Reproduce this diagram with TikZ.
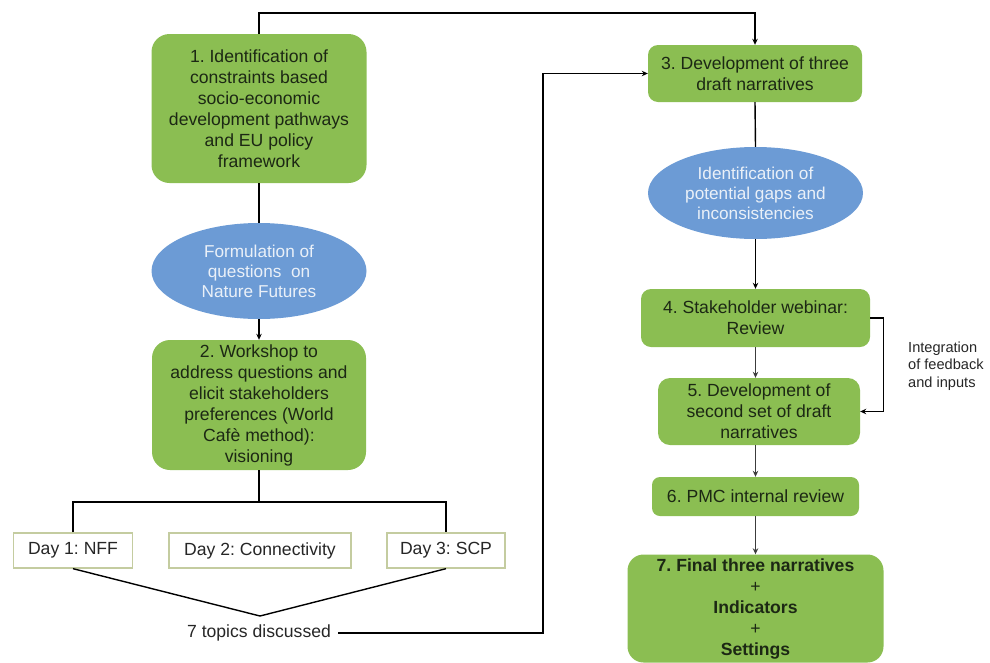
\documentclass[tikz,border=0pt]{standalone}
\usepackage{fontspec}
\setmainfont{Liberation Sans}
\usetikzlibrary{shapes.geometric,arrows.meta}
\definecolor{boxgreen}{RGB}{139,190,82}
\definecolor{ellblue}{RGB}{108,155,213}
\definecolor{boxtext}{RGB}{28,40,20}
\definecolor{elltext}{RGB}{234,240,248}
\definecolor{dayborder}{RGB}{196,204,160}
\definecolor{linegray}{RGB}{60,60,60}
\frenchspacing
\begin{document}
\begin{tikzpicture}[x=1pt,y=-1pt,
  every node/.style={font=\fontsize{17.6}{21}\selectfont, inner sep=0pt, align=center},
  gbox/.style={fill=boxgreen, text=boxtext, rounded corners=#1},
  gbox/.default=10pt,
  ellnode/.style={ellipse, fill=ellblue, text=elltext, font=\fontsize{17.2}{20}\selectfont},
  daybox/.style={draw=dayborder, line width=1.3pt, fill=white, text=black!85},
  conn/.style={line width=1.4pt, black},
  arr/.style={conn, -{Stealth[length=6pt,width=5.5pt]}},
  garr/.style={line width=1.4pt, linegray, -{Stealth[length=6pt,width=5.5pt]}}
]
\useasboundingbox (0,0) rectangle (990,662);

% left column
\node[gbox=18pt, minimum width=215pt, minimum height=149pt] (b1) at (259,108.5)
  {1. Identification of\\constraints based\\socio-economic\\development pathways\\and EU policy\\framework};
\node[ellnode, minimum width=215pt, minimum height=96pt] (e1) at (259,271)
  {Formulation of\\questions\ \ on\\Nature Futures};
\node[gbox=18pt, minimum width=214pt, minimum height=130pt] (b2) at (259,405)
  {2. Workshop to\\address questions and\\elicit stakeholders\\preferences (World\\Cafè method):\\visioning};
\node[daybox, minimum width=119pt, minimum height=35pt] (d1) at (73,550.5) {Day 1: NFF};
\node[daybox, minimum width=182pt, minimum height=35pt] (d2) at (260,550.5) {Day 2: Connectivity};
\node[daybox, minimum width=118pt, minimum height=35pt] (d3) at (446,550.5) {Day 3: SCP};
\node[text=black!85, inner xsep=7pt] (topics) at (259,633) {7 topics discussed};
\coordinate (bar) at (259,502);
\coordinate (apex) at (260,616);
\coordinate (cx) at (543,633);

% right column
\node[gbox=10pt, minimum width=214pt, minimum height=57pt] (b3) at (755,73.5)
  {3. Development of three\\draft narratives};
\node[ellnode, minimum width=215pt, minimum height=92pt] (e2) at (755.5,193)
  {Identification of\\potential gaps and\\inconsistencies};
\node[gbox=10pt, minimum width=229pt, minimum height=58pt] (b4) at (755.5,318)
  {4. Stakeholder webinar:\\Review};
\node[gbox=12pt, minimum width=202pt, minimum height=67pt] (b5) at (759,411.5)
  {5. Development of\\second set of draft\\narratives};
\node[gbox=8pt, minimum width=207pt, minimum height=39pt] (b6) at (755.5,496.5)
  {6. PMC internal review};
\node[gbox=16pt, minimum width=256pt, minimum height=108pt] (b7) at (755.5,608.5)
  {\textbf{7. Final three narratives}\\+\\\textbf{Indicators}\\+\\\textbf{Settings}};
\node[anchor=west, align=left, text=black!85, font=\fontsize{14.6}{17.5}\selectfont] (integ) at (908,366)
  {Integration\\of feedback\\and inputs};

% connectors
\draw[arr] (b1.north) -- ++(0,-21) -| (b3.north);
\draw[conn] (b1.south) -- (e1.north);
\draw[arr] (e1.south) -- (b2.north);
\draw[conn] (b2.south) -- (bar);
\draw[conn] (d1.north) -- (d1.north |- bar) -- (d3.north |- bar) -- (d3.north);
\draw[conn] (d1.south) -- (apex) -- (d3.south);
\draw[arr] (topics.east) -- (cx) |- (b3.west);
\draw[conn] (b3.south) -- (e2.north);
\draw[arr] (e2.south) -- (b4.north);
\draw[garr] (b4.south) -- (b4.south |- b5.north);
\draw[garr] (b4.south |- b5.south) -- (b4.south |- b6.north);
\draw[garr] (b6.south) -- (b7.north);
\draw[arr] (b4.east) -- ++(13,0) |- (b5.east);
\end{tikzpicture}
\end{document}
